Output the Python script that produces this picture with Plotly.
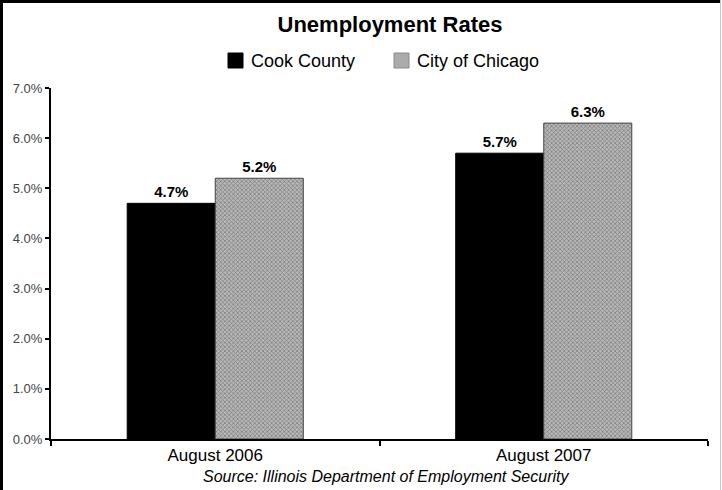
import plotly.graph_objects as go

categories = ["August 2006", "August 2007"]
series_names = ["Cook County", "City of Chicago"]
cook_county = [4.7, 5.7]
city_of_chicago = [5.2, 6.3]
y_ticks = [0, 1, 2, 3, 4, 5, 6, 7]

FONT = "Liberation Sans, Arial, sans-serif"

W, H = 722, 490
L, R, T, B = 51, 14, 88, 51
pw, ph = W - L - R, H - T - B


def px(xp):
    return (xp - L) / pw


def py(yp):
    return (H - B - yp) / ph


fig = go.Figure()
fig.add_trace(go.Bar(
    x=categories, y=cook_county, name=series_names[0],
    marker=dict(color="#000000", line=dict(color="#000000", width=1)),
    texttemplate="%{y:.1f}%", textposition="outside",
    textfont=dict(family=FONT, size=15, color="#000000", weight="bold"),
    cliponaxis=False,
))
fig.add_trace(go.Bar(
    x=categories, y=city_of_chicago, name=series_names[1],
    marker=dict(
        color="#b8b8b8",
        line=dict(color="#444444", width=1),
        pattern=dict(shape="x", size=3, solidity=0.4, fgcolor="#777777",
                     bgcolor="#b8b8b8", fillmode="replace"),
    ),
    texttemplate="%{y:.1f}%", textposition="outside",
    textfont=dict(family=FONT, size=15, color="#000000", weight="bold"),
    cliponaxis=False,
))

# custom legend (square swatches + labels)
legend_items = [
    (series_names[0], "#000000", "#000000", 228),
    (series_names[1], "#ababab", "#8a8a8a", 394),
]
shapes = []
annotations = []
for name, fill, edge, x0 in legend_items:
    shapes.append(dict(type="rect", xref="paper", yref="paper",
                       x0=px(x0), x1=px(x0 + 15), y0=py(68), y1=py(53),
                       fillcolor=fill, line=dict(color=edge, width=1)))
    annotations.append(dict(text=name, xref="paper", yref="paper",
                            x=px(x0 + 21), y=py(61), xanchor="left", yanchor="middle",
                            showarrow=False,
                            font=dict(family=FONT, size=18, color="#000000")))

# frame
shapes.append(dict(type="line", xref="paper", yref="paper",
                   x0=px(1.5), x1=px(1.5), y0=py(490), y1=py(0),
                   line=dict(color="#000000", width=3)))
shapes.append(dict(type="line", xref="paper", yref="paper",
                   x0=px(0), x1=px(721), y0=py(1.5), y1=py(1.5),
                   line=dict(color="#000000", width=3)))
shapes.append(dict(type="line", xref="paper", yref="paper",
                   x0=px(720.5), x1=px(720.5), y0=py(490), y1=py(0),
                   line=dict(color="#c8c8c8", width=1)))

annotations.append(dict(text="<i>Source: Illinois Department of Employment Security</i>",
                        xref="paper", yref="paper", x=px(386), y=py(476),
                        xanchor="center", yanchor="middle", showarrow=False,
                        font=dict(family=FONT, size=16, color="#000000")))

fig.update_layout(
    width=W, height=H,
    margin=dict(l=L, r=R, t=T, b=B),
    paper_bgcolor="white", plot_bgcolor="white",
    font=dict(family=FONT, color="#000000"),
    barmode="group",
    bargap=0.464, bargroupgap=0,
    showlegend=False,
    title=dict(text="<b>Unemployment Rates</b>", x=px(390), xref="paper", xanchor="center",
               y=1 - 24 / H, yref="container", yanchor="middle",
               font=dict(family=FONT, size=22, color="#000000")),
    xaxis=dict(
        showline=True, linecolor="#000000", linewidth=2,
        ticks="outside", ticklen=5, tickwidth=2, tickcolor="#000000", tickson="boundaries",
        tickfont=dict(family=FONT, size=17, color="#000000"),
        showgrid=False,
    ),
    yaxis=dict(
        range=[0, 7], tickvals=y_ticks,
        ticktext=[f"{v:.1f}%" for v in y_ticks],
        showline=True, linecolor="#000000", linewidth=2,
        ticks="outside", ticklen=4, tickwidth=2, tickcolor="#000000",
        tickfont=dict(family=FONT, size=13, color="#444444"),
        showgrid=False, zeroline=False,
    ),
    shapes=shapes,
    annotations=annotations,
)

fig.write_html("out.html", config={"displayModeBar": False},
               post_script="document.body.style.margin='0';document.body.style.overflow='hidden';")
